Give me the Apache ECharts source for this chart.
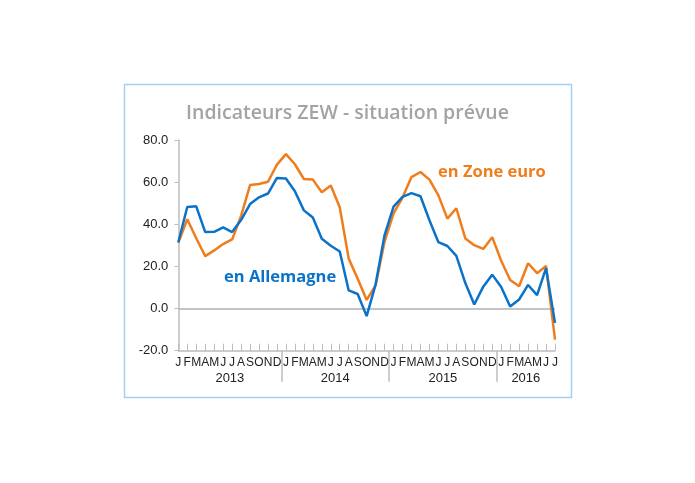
<!DOCTYPE html>
<html>
<head>
<meta charset="utf-8">
<script src="https://cdn.jsdelivr.net/npm/echarts@6/dist/echarts.min.js"></script>
<style>
html,body{margin:0;padding:0;background:#fff;}
#chart{width:695px;height:483px;}
</style>
</head>
<body>
<div id="chart"></div>
<script>
const titleText = 'Indicateurs ZEW - situation prévue';
const monthLetters = ['J','F','M','A','M','J','J','A','S','O','N','D'];
const years = ['2013','2014','2015','2016'];
const monthsPerYear = [12,12,12,7];
const yTicks = [-20, 0, 20, 40, 60, 80];
const allemagne = [31.5,48.2,48.5,36.3,36.4,38.5,36.3,42.0,49.6,52.8,54.6,62.0,
  61.7,55.7,46.6,43.2,33.1,29.8,27.1,8.6,6.9,-3.6,11.5,34.9,
  48.4,53.0,54.8,53.3,41.9,31.5,29.7,25.0,12.1,1.9,10.4,16.1,
  10.2,1.0,4.3,11.2,6.4,19.2,-6.8];
const zoneEuro = [31.2,42.4,33.4,24.9,27.6,30.6,32.8,44.0,58.6,59.1,60.2,68.3,
  73.3,68.5,61.5,61.2,55.2,58.4,48.1,23.7,14.2,4.1,11.0,31.8,
  45.2,52.7,62.4,64.8,61.2,53.7,42.7,47.6,33.3,30.1,28.3,33.9,
  22.7,13.6,10.6,21.5,16.8,20.2,-14.7];
const seriesNames = ['en Allemagne', 'en Zone euro'];

// build categories
const categories = [];
const letters = [];
years.forEach((y, yi) => {
  for (let m = 0; m < monthsPerYear[yi]; m++) {
    categories.push(y + '-' + (m + 1));
    letters.push(monthLetters[m]);
  }
});
const n = categories.length;
// year separators and label centers in index units
const sepVals = [];
const yearCenters = [];
let start = 0;
years.forEach((y, yi) => {
  const end = start + monthsPerYear[yi] - 1;
  const lo = Math.max(0, start - 0.5);
  const hi = Math.min(n - 1, end + 0.5);
  yearCenters.push((lo + hi) / 2);
  if (yi < years.length - 1) sepVals.push(end + 0.5);
  start = end + 1;
});

const BLUE = '#0a73c9';
const ORANGE = '#f07d1c';
const GRAY = '#bdbdbd';

const chart = echarts.init(document.getElementById('chart'));
chart.setOption({
  animation: false,
  backgroundColor: '#fff',
  title: {
    text: titleText,
    left: 'center',
    top: 98,
    textStyle: {fontFamily: 'Open Sans', fontWeight: 600, fontSize: 19.5, color: '#a3a3a3'}
  },
  grid: {left: 178.3, right: 140, top: 140, bottom: 132.3, containLabel: false},
  xAxis: [{
    type: 'category',
    data: categories,
    boundaryGap: false,
    axisLine: {onZero: false, lineStyle: {color: GRAY, width: 1.5}},
    axisTick: {inside: true, length: 7, interval: 0, lineStyle: {color: GRAY, width: 1}},
    axisLabel: {
      interval: 0, margin: 6, fontSize: 12, color: '#222',
      fontFamily: 'Liberation Sans',
      formatter: (v, i) => letters[i]
    },
    splitLine: {show: false}
  }, {
    type: 'value',
    position: 'bottom',
    min: 0, max: n - 1,
    axisLine: {show: false, onZero: false},
    axisTick: {show: true, customValues: sepVals, length: 31, lineStyle: {color: GRAY, width: 1.5}},
    axisLabel: {
      customValues: yearCenters, margin: 21, fontSize: 13, color: '#222',
      fontFamily: 'Liberation Sans',
      formatter: (v) => {
        const k = yearCenters.findIndex(c => Math.abs(c - v) < 1e-6);
        return k >= 0 ? years[k] : '';
      }
    },
    splitLine: {show: false}
  }],
  yAxis: {
    type: 'value',
    min: yTicks[0], max: yTicks[yTicks.length - 1], interval: 20,
    axisLine: {show: true, lineStyle: {color: GRAY, width: 1.5}},
    axisTick: {show: true, length: 4, lineStyle: {color: GRAY}},
    axisLabel: {
      margin: 10, fontSize: 13, color: '#222', fontFamily: 'Liberation Sans',
      formatter: v => v.toFixed(1)
    },
    splitLine: {
      show: true,
      lineStyle: {color: yTicks.map(t => t === 0 ? '#c4c4c4' : 'rgba(0,0,0,0)'), width: 2}
    }
  },
  series: [{
    name: seriesNames[0], type: 'line', data: allemagne, xAxisIndex: 0,
    showSymbol: false, symbol: 'none',
    lineStyle: {color: BLUE, width: 2.5}, itemStyle: {color: BLUE}, z: 3
  }, {
    name: seriesNames[1], type: 'line', data: zoneEuro, xAxisIndex: 0,
    showSymbol: false, symbol: 'none',
    lineStyle: {color: ORANGE, width: 2.5}, itemStyle: {color: ORANGE}, z: 2
  }],
  graphic: [{
    type: 'rect', silent: true, z: -10,
    shape: {x: 124.5, y: 84.5, width: 447, height: 313},
    style: {fill: 'none', stroke: '#a6d0f0', lineWidth: 1.5}
  }, {
    type: 'text', left: 224, top: 269,
    style: {text: seriesNames[0], fill: BLUE, font: 'bold 16.5px "Open Sans"'}
  }, {
    type: 'text', left: 438, top: 164,
    style: {text: seriesNames[1], fill: ORANGE, font: 'bold 16.5px "Open Sans"'}
  }]
});
</script>
</body>
</html>
